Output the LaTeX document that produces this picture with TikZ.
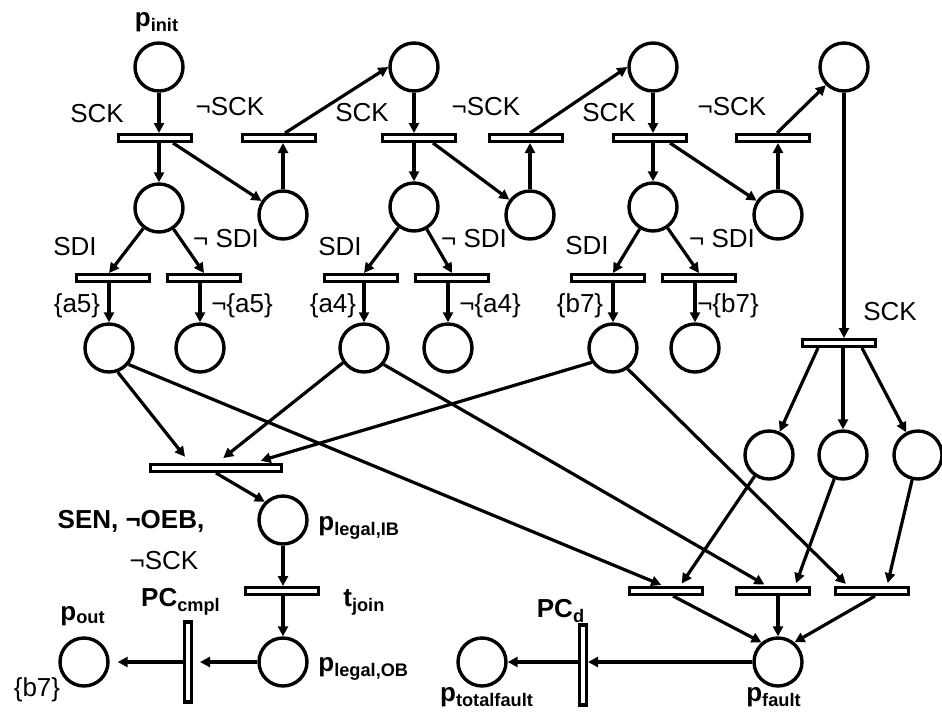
\documentclass[tikz,border=0pt]{standalone}
\usepackage{fontspec}
\setmainfont{Liberation Sans}
\usetikzlibrary{arrows.meta}
\newcommand{\plab}[2]{\textbf{#1}\textsubscript{\textbf{#2}}}
\tikzset{
    place/.style={
        circle,
        draw,
        line width=1.7pt,
        minimum size=24pt,
        inner sep=0pt
    },
    trans/.style={
        rectangle,
        draw,
        line width=1.7pt,
        minimum width=36.5pt,
        minimum height=3.3pt,
        inner sep=0pt
    },
    jointrans/.style={trans, minimum width=65.5pt},
    vtrans/.style={trans, minimum width=3.3pt, minimum height=40pt},
    line/.style={-{Triangle[length=5pt, width=5pt]}, line width=1.6pt},
    cond/.style={inner sep=0pt, font=\fontsize{13}{15}\selectfont},
    pname/.style={inner sep=0pt, font=\fontsize{13}{15}\selectfont\bfseries}
}

\begin{document}
\begin{tikzpicture}[x=0.5pt, y=-0.5pt]

\useasboundingbox (0,0) rectangle (942,713);

% clock places
\node[place] (pinit) at (159,67) {};
\node[place] (pckA) at (414,67) {};
\node[place] (pckB) at (653,67) {};
\node[place] (pckC) at (844,67) {};

% SCK / not SCK transitions
\node[trans] (tsckA) at (155,138) {};
\node[trans] (tnsckA) at (279,138) {};
\node[trans] (tsckB) at (419,138) {};
\node[trans] (tnsckB) at (526,138) {};
\node[trans] (tsckC) at (650,138) {};
\node[trans] (tnsckC) at (773,138) {};

\node[place] (pdA) at (159,208) {};
\node[place] (pwA) at (283,215) {};
\node[place] (pdB) at (414,207) {};
\node[place] (pwB) at (530,215) {};
\node[place] (pdC) at (653,207) {};
\node[place] (pwC) at (778,215) {};

% SDI transitions
\node[trans] (ta5) at (113,278) {};
\node[trans] (tna5) at (204,278) {};
\node[trans] (ta4) at (361,278) {};
\node[trans] (tna4) at (452,278) {};
\node[trans] (tb7) at (608,278) {};
\node[trans] (tnb7) at (699,278) {};

\node[place] (pa5) at (109,348) {};
\node[place] (pna5) at (200,348) {};
\node[place] (pa4) at (364,348) {};
\node[place] (pna4) at (448,348) {};
\node[place] (pb7) at (613,348) {};
\node[place] (pnb7) at (695,348) {};

% fault branch
\node[trans] (tsckD) at (839,343) {};
\node[place] (pfA) at (769,455) {};
\node[place] (pfB) at (843,455) {};
\node[place] (pfC) at (918,455) {};

\node[trans] (tfA) at (666,591) {};
\node[trans] (tfB) at (773,591) {};
\node[trans] (tfC) at (872,591) {};
\node[place] (pfault) at (778,662) {};
\node[vtrans] (tpcd) at (583,665) {};
\node[place] (ptotal) at (482,662) {};

% legal branch
\node[jointrans] (tmerge) at (216,468) {};
\node[place] (pIB) at (283,520) {};
\node[trans] (tjoin) at (282,591) {};
\node[place] (pOB) at (283,662) {};
\node[vtrans] (tcmpl) at (188,662) {};
\node[place] (pout) at (84,662) {};

% arcs, top part
\draw[line] (pinit) -- (pinit |- tsckA.north);
\draw[line] (tsckA.south -| pdA) -- (pdA);
\draw[line] ([xshift=9pt]tsckA.south) -- (pwA);
\draw[line] (pwA) -- (pwA |- tnsckA.south);
\draw[line] ([xshift=3pt]tnsckA.north) -- (pckA.west);

\draw[line] (pckA) -- (pckA |- tsckB.north);
\draw[line] (tsckB.south -| pdB) -- (pdB);
\draw[line] ([xshift=7pt]tsckB.south) -- (pwB);
\draw[line] (pwB) -- (pwB |- tnsckB.south);
\draw[line] ([xshift=2pt]tnsckB.north) -- (pckB.west);

\draw[line] (pckB) -- (pckB |- tsckC.north);
\draw[line] (tsckC.south -| pdC) -- (pdC);
\draw[line] ([xshift=10pt]tsckC.south) -- (pwC);
\draw[line] (pwC) -- (pwC |- tnsckC.south);
\draw[line] ([xshift=2pt]tnsckC.north) -- (pckC.south west);

\draw[line] (pckC) -- (pckC |- tsckD.north);

% SDI arcs
\draw[line] (pdA) -- (ta5.north -| pa5);
\draw[line] (pdA) -- (tna5.north);
\draw[line] (ta5.south -| pa5) -- (pa5);
\draw[line] (tna5.south -| pna5) -- (pna5);

\draw[line] (pdB) -- (ta4.north -| pa4);
\draw[line] (pdB) -- (tna4.north);
\draw[line] (ta4.south -| pa4) -- (pa4);
\draw[line] (tna4.south -| pna4) -- (pna4);

\draw[line] (pdC) -- (tb7.north -| pb7);
\draw[line] (pdC) -- (tnb7.north);
\draw[line] (tb7.south -| pb7) -- (pb7);
\draw[line] (tnb7.south -| pnb7) -- (pnb7);

% join
\draw[line, shorten >=4pt] (pa5.-70) -- ([xshift=-13pt]tmerge.north);
\draw[line, shorten >=4pt] (pa4.215) -- ([xshift=0.5pt]tmerge.north);
\draw[line, shorten >=4pt] (pb7.214) -- ([xshift=18.5pt]tmerge.north);
\draw[line] (tmerge.south) -- (pIB.135);
\draw[line] (pIB) -- (pIB |- tjoin.north);
\draw[line] (tjoin.south -| pOB) -- (pOB);
\draw[line, shorten >=3.5pt] (pOB) -- (pOB -| tcmpl.east);
\draw[line, shorten >=4pt] (tcmpl.west |- pout) -- (pout);

% fault arcs
\draw[line] ([xshift=-10.5pt]tsckD.south) -- (pfA);
\draw[line] (tsckD.south -| pfB) -- (pfB);
\draw[line] ([xshift=11.5pt]tsckD.south) -- (pfC);

\draw[line, shorten >=1.5pt] (pa5.-40) -- ([xshift=-1pt]tfA.north);
\draw[line, shorten >=1.5pt] (pfA) -- ([xshift=7pt]tfA.north);
\draw[line, shorten >=1.5pt] (pa4.-40) -- ([xshift=-3pt]tfB.north);
\draw[line, shorten >=1.5pt] (pfB) -- ([xshift=11pt]tfB.north);
\draw[line, shorten >=1.5pt] (pb7.-55) -- ([xshift=-12pt]tfC.north);
\draw[line, shorten >=1.5pt] (pfC) -- ([xshift=7.5pt]tfC.north);

\draw[line] ([xshift=3.5pt]tfA.south) -- (pfault.130);
\draw[line] (tfB.south -| pfault) -- (pfault);
\draw[line] ([xshift=1.5pt]tfC.south) -- (pfault.50);
\draw[line] (pfault) -- (pfault -| tpcd.east);
\draw[line] (tpcd.west |- ptotal) -- (ptotal);

% guards and outputs
\node[cond] (gsckA) at (97,114) {SCK};
\node[cond] (gnsckA) at (230,107) {¬SCK};
\node[cond] (gsckB) at (362,113) {SCK};
\node[cond] (gnsckB) at (486,107) {¬SCK};
\node[cond] (gsckC) at (609,113) {SCK};
\node[cond] (gnsckC) at (732,107) {¬SCK};
\node[cond] (gsdiA) at (75,247) {SDI};
\node[cond] (gnsdiA) at (226,239) {¬ SDI};
\node[cond] (gsdiB) at (340,247) {SDI};
\node[cond] (gnsdiB) at (474,239) {¬ SDI};
\node[cond] (gsdiC) at (587,246) {SDI};
\node[cond] (gnsdiC) at (722,239) {¬ SDI};
\node[cond] (oa5) at (77,306) {\{a5\}};
\node[cond] (ona5) at (242,306) {¬\{a5\}};
\node[cond] (oa4) at (333,306) {\{a4\}};
\node[cond] (ona4) at (490,306) {¬\{a4\}};
\node[cond] (ob7) at (580,306) {\{b7\}};
\node[cond] (onb7) at (728,306) {¬\{b7\}};
\node[cond] (gsckD) at (890,312) {SCK};
\node[pname] (gsen) at (131,521) {SEN, ¬OEB,};
\node[cond] (gnsckE) at (164,561) {¬SCK};
\node[cond] (oout) at (37,690) {\{b7\}};

% place and transition names
\node[pname] (lpinit) at (157,22) {\plab{p}{init}};
\node[pname, anchor=west] (lpIB) at (318,528) {\plab{p}{legal,IB}};
\node[pname, anchor=west] (ltjoin) at (343,602) {\plab{t}{join}};
\node[pname, anchor=west] (lpOB) at (318,669) {\plab{p}{legal,OB}};
\node[pname] (lcmpl) at (181,602) {\plab{PC}{cmpl}};
\node[pname] (lpout) at (83,616) {\plab{p}{out}};
\node[pname] (lpcd) at (561,611) {\plab{PC}{d}};
\node[pname] (lpfault) at (774,697) {\plab{p}{fault}};
\node[pname] (lptotal) at (487,697) {\plab{p}{totalfault}};

\end{tikzpicture}
\end{document}
